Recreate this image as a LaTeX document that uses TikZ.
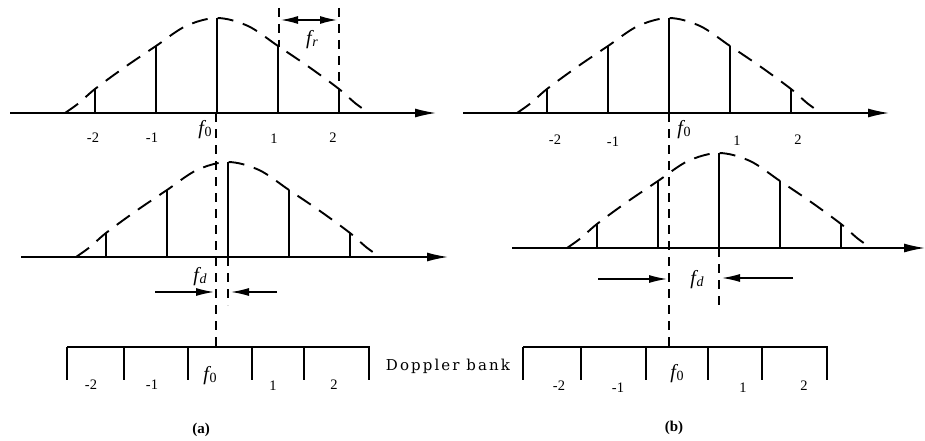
\documentclass[tikz,border=0pt]{standalone}
\usepackage{fontspec}
\setmainfont{Liberation Serif}
\newfontfamily\bankfont{DejaVu Serif}
\usetikzlibrary{arrows.meta}
\newcommand\fsym[1]{{\fontsize{20}{21}\selectfont\itshape f}\kern0.6pt\raisebox{-0.45ex}{\fontsize{14}{14}\selectfont #1}}
\newcommand\spectrumdraw[2]{%
\begin{scope}[shift={(#1,#2)}]
\draw[curve] plot[smooth,tension=0.55] coordinates {(-152,0)(-138,-10)(-122,-24)(-92,-46)(-61,-67)(-31,-87)(0,-95)(31,-87)(61,-67)(92,-46)(122,-24)(138,-10)(152,0)};
\foreach \k/\h in {-2/24,-1/67,0/95,1/67,2/24} \draw[stem] (\k*61,0) -- ++(0,-\h);
\end{scope}}
\begin{document}
\begin{tikzpicture}[x=1pt,y=-1pt,
  axis/.style={line width=1.4pt,-{Latex[length=21pt,width=9pt]}},
  stem/.style={line width=1.5pt},
  curve/.style={line width=1.9pt,dash pattern=on 16pt off 10pt},
  vdash/.style={line width=1.5pt,dash pattern=on 9pt off 7pt},
  banktick/.style={line width=2.4pt},
  bankline/.style={line width=1.4pt},
  num/.style={font=\fontsize{14.5}{15}\selectfont,inner sep=0pt},
  flab/.style={inner sep=0pt},
  darrow/.style={line width=1.3pt,-{Latex[length=18pt,width=8pt]}},
  captext/.style={font=\fontsize{15}{16}\selectfont\bfseries,inner sep=0pt}]
\useasboundingbox (0,0) rectangle (925,441);

% ---- dashed reference lines f0
\coordinate (fa1) at (216,113); \coordinate (fa2) at (216,347);
\coordinate (fb1) at (669,113); \coordinate (fb2) at (669,347);
\draw[vdash] (fa1) -- (fa2);
\draw[vdash] (fb1) -- (fb2);

% ---- top left
\coordinate (ta0) at (10,113); \coordinate (ta1) at (436,113);
\draw[axis] (ta0) -- (ta1);
\spectrumdraw{217}{113}
\node[num] (tal-2) at (93,138) {-2};
\node[num] (tal-1) at (152,138) {-1};
\node[flab] (taf) at (205,130) {\fsym{0}};
\node[num] (tal1) at (274,139) {1};
\node[num] (tal2) at (333,138) {2};
% fr
\coordinate (r1a) at (279,8); \coordinate (r1b) at (279,47);
\coordinate (r2a) at (339,8); \coordinate (r2b) at (339,88);
\draw[vdash] (r1a) -- (r1b);
\draw[vdash] (r2a) -- (r2b);
\coordinate (ra) at (281,20); \coordinate (rb) at (337,20);
\draw[line width=1.3pt,{Latex[length=17pt,width=8pt]}-{Latex[length=17pt,width=8pt]}] (ra) -- (rb);
\node[flab] (frl) at (312,40) {\fsym{\itshape r}};

% ---- top right
\coordinate (tb0) at (463,113); \coordinate (tb1) at (889,113);
\draw[axis] (tb0) -- (tb1);
\spectrumdraw{669}{113}
\node[num] (tbl-2) at (555,140) {-2};
\node[num] (tbl-1) at (613,142) {-1};
\node[flab] (tbf) at (684,130) {\fsym{0}};
\node[num] (tbl1) at (737,141) {1};
\node[num] (tbl2) at (798,140) {2};

% ---- middle left
\coordinate (ma0) at (21,257); \coordinate (ma1) at (448,257);
\draw[axis] (ma0) -- (ma1);
\spectrumdraw{228}{257}
\coordinate (da1) at (228,257); \coordinate (da2) at (228,305);
\draw[vdash] (da1) -- (da2);
\coordinate (la0) at (155,292); \coordinate (la1) at (214,292);
\coordinate (lb0) at (277,292); \coordinate (lb1) at (231,292);
\draw[darrow] (la0) -- (la1);
\draw[darrow] (lb0) -- (lb1);
\node[flab] (fdl) at (200,277) {\fsym{\itshape d}};

% ---- middle right
\coordinate (mb0) at (512,248); \coordinate (mb1) at (925,248);
\draw[axis] (mb0) -- (mb1);
\spectrumdraw{719}{248}
\coordinate (db1) at (719,248); \coordinate (db2) at (719,305);
\draw[vdash] (db1) -- (db2);
\coordinate (ra0) at (598,279); \coordinate (ra1) at (667,279);
\coordinate (rb0) at (793,278); \coordinate (rb1) at (722,278);
\draw[darrow] (ra0) -- (ra1);
\draw[darrow] (rb0) -- (rb1);
\node[flab] (fdr) at (697,280) {\fsym{\itshape d}};

% ---- Doppler banks
\coordinate (ba0) at (67,347); \coordinate (ba1) at (370,347);
\draw[bankline] (ba0) -- (ba1);
\foreach \x in {67,124,188,252,304,369} \draw[banktick] (\x,347) -- (\x,380);
\node[num] (bal-2) at (91,385) {-2};
\node[num] (bal-1) at (152,385) {-1};
\node[flab] (baf) at (210,376) {\fsym{0}};
\node[num] (bal1) at (273,386) {1};
\node[num] (bal2) at (334,385) {2};

\coordinate (bb0) at (523,347); \coordinate (bb1) at (828,347);
\draw[bankline] (bb0) -- (bb1);
\foreach \x in {523,581,646,708,762,827} \draw[banktick] (\x,347) -- (\x,380);
\node[num] (bbl-2) at (559,386) {-2};
\node[num] (bbl-1) at (618,388) {-1};
\node[flab] (bbf) at (677,374) {\fsym{0}};
\node[num] (bbl1) at (743,388) {1};
\node[num] (bbl2) at (804,386) {2};

\node[inner sep=0pt,font=\bankfont\fontsize{15}{16}\selectfont\addfontfeature{LetterSpace=14}] (dop) at (448,366) {Doppler bank};

\node[captext] (capa) at (201,430) {(a)};
\node[captext] (capb) at (674,428) {(b)};
\end{tikzpicture}
\end{document}
